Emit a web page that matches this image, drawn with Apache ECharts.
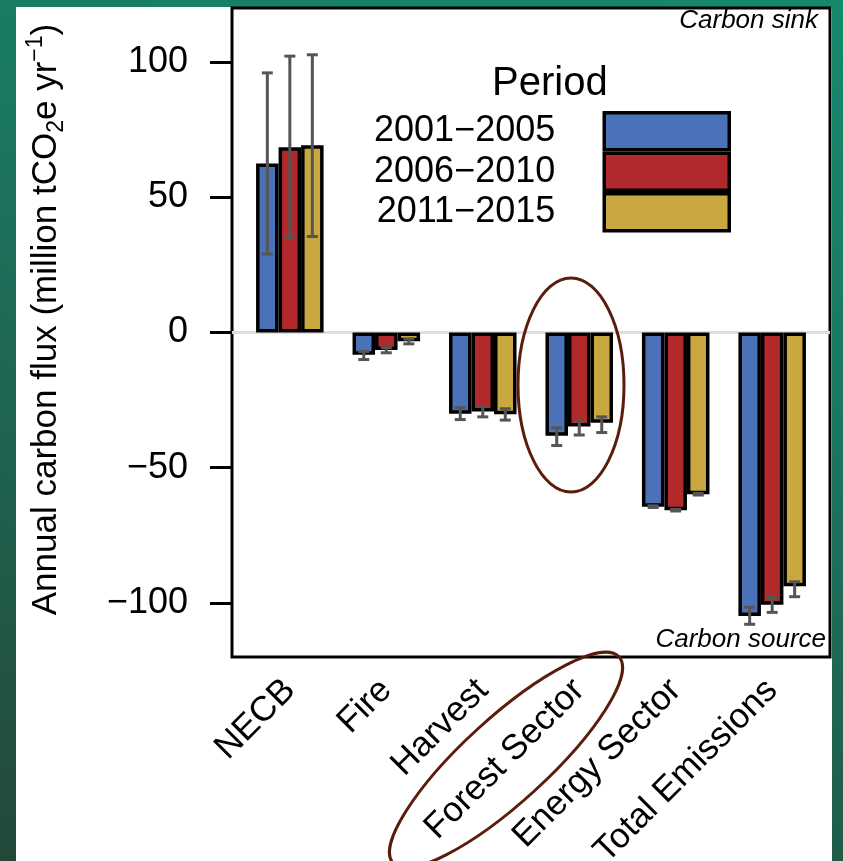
<!DOCTYPE html>
<html>
<head>
<meta charset="utf-8">
<script src="https://cdn.jsdelivr.net/npm/echarts@6/dist/echarts.min.js"></script>
<style>
html,body{margin:0;padding:0;}
body{width:843px;height:861px;overflow:hidden;position:relative;
 background:linear-gradient(200deg,#15896d 0%,#1b7762 35%,#1f6552 60%,#23483a 100%);}
#panel{position:absolute;left:16px;top:7px;width:816px;height:854px;background:#fff;}
#chart{position:absolute;left:0;top:0;width:843px;height:861px;}
</style>
</head>
<body>
<div id="panel"></div>
<div id="chart"></div>
<script>
const categories = ['NECB', 'Fire', 'Harvest', 'Forest Sector', 'Energy Sector', 'Total Emissions'];
const periods = ['2001\u22122005', '2006\u22122010', '2011\u22122015'];
const colors = ['#4B72B9', '#B2292B', '#C9A93F'];
const p1 = [62.5, -8.2, -30.0, -38.2, -64.4, -104.8];
const p2 = [68.5, -6.5, -29.2, -34.8, -65.7, -100.7];
const p3 = [69.2, -3.2, -30.2, -33.4, -59.8, -93.8];
const p1Low = [29.0, -10.0, -32.2, -41.8, -64.7, -107.9];
const p1High = [96.0, -7.0, -27.8, -35.2, -64.1, -101.6];
const p2Low = [34.9, -7.5, -31.2, -37.9, -66.0, -103.5];
const p2High = [102.2, -5.6, -27.4, -32.6, -65.4, -98.0];
const p3Low = [35.5, -4.2, -32.4, -37.0, -60.1, -97.7];
const p3High = [102.7, -2.4, -28.2, -31.2, -59.5, -92.2];
const yTicks = [-100, -50, 0, 50, 100];

const values = [p1, p2, p3];
const lows = [p1Low, p2Low, p3Low];
const highs = [p1High, p2High, p3High];
const FONT = "'Liberation Sans', Arial, Helvetica, sans-serif";

const chart = echarts.init(document.getElementById('chart'), null, {renderer: 'canvas'});

const series = [];
// zero reference line (drawn under bars)
series.push({
  type: 'line', xAxisIndex: 1, yAxisIndex: 1, z: 1, silent: true,
  symbol: 'none', data: [[0, 0], [1, 0]],
  lineStyle: {color: '#dedede', width: 3}
});
periods.forEach((p, k) => {
  series.push({
    name: p, type: 'bar', xAxisIndex: 0, yAxisIndex: 0, z: 2,
    data: values[k], barGap: '0%', barCategoryGap: '30%',
    itemStyle: {color: colors[k], borderColor: '#000', borderWidth: 3.5}
  });
});
periods.forEach((p, k) => {
  series.push({
    type: 'custom', xAxisIndex: 0, yAxisIndex: 0, z: 3, silent: true,
    data: categories.map((c, i) => [i, lows[k][i], highs[k][i]]),
    encode: {x: 0, y: [1, 2]},
    renderItem: function (params, api) {
      const ci = api.value(0);
      const x0 = api.coord([ci, 0])[0];
      const bandW = api.size([1, 0])[0];
      const barW = bandW * 0.7 / 3;
      const cx = x0 + (k - 1) * barW;
      const yl = api.coord([ci, api.value(1)])[1];
      const yh = api.coord([ci, api.value(2)])[1];
      const cap = 5.5;
      const st = {stroke: '#555555', lineWidth: 3};
      return {
        type: 'group',
        children: [
          {type: 'line', shape: {x1: cx, y1: yl, x2: cx, y2: yh}, style: st},
          {type: 'line', shape: {x1: cx - cap, y1: yl, x2: cx + cap, y2: yl}, style: st},
          {type: 'line', shape: {x1: cx - cap, y1: yh, x2: cx + cap, y2: yh}, style: st}
        ]
      };
    }
  });
});

const option = {
  animation: false,
  backgroundColor: 'transparent',
  textStyle: {fontFamily: FONT},
  title: [
    {text: 'Period', left: 492, top: 64, padding: 0,
     textStyle: {fontFamily: FONT, fontSize: 40, fontWeight: 'normal', color: '#000'}},
    {text: 'Carbon sink', right: 25, top: 8, padding: 0,
     textStyle: {fontFamily: FONT, fontSize: 26, fontStyle: 'italic', fontWeight: 'normal', color: '#000'}},
    {text: 'Carbon source', right: 17, top: 627, padding: 0,
     textStyle: {fontFamily: FONT, fontSize: 26, fontStyle: 'italic', fontWeight: 'normal', color: '#000'}}
  ],
  legend: {
    data: periods.map(p => ({name: p, icon: 'rect'})), orient: 'vertical', align: 'right',
    right: 112, top: 111, padding: 0, itemGap: 0,
    itemWidth: 125, itemHeight: 37, selectedMode: false,
    itemStyle: {borderColor: '#000', borderWidth: 3.5},
    textStyle: {fontFamily: FONT, fontSize: 36, color: '#000', padding: [0, 44, 0, 0]}
  },
  grid: [
    {left: 241.6, right: 22.6, top: 8, bottom: 204, containLabel: false, outerBoundsMode: 'none'},
    {left: 232, right: 13, top: 8, bottom: 204, containLabel: false, outerBoundsMode: 'none',
     show: true, borderColor: '#000', borderWidth: 3, backgroundColor: 'transparent'}
  ],
  xAxis: [
    {type: 'category', gridIndex: 0, data: categories,
     axisLine: {show: false}, axisTick: {show: false},
     axisLabel: {rotate: 45, fontSize: 35, color: '#000', fontFamily: FONT, margin: 28, interval: 0}},
    {type: 'value', gridIndex: 1, min: 0, max: 1, show: false}
  ],
  yAxis: [
    {type: 'value', gridIndex: 0, min: -120, max: 120, show: false},
    {type: 'value', gridIndex: 1, min: -120, max: 120,
     axisLine: {show: false},
     splitLine: {show: false},
     axisTick: {show: true, length: 22, lineStyle: {color: '#000', width: 3}, customValues: yTicks},
     axisLabel: {fontSize: 36, color: '#000', fontFamily: FONT, margin: 44, customValues: yTicks,
       formatter: v => String(v).replace('-', '\u2212')},
     name: '{t|Annual carbon flux (million tCO}{sub|2}{t|e yr}{sup|\u22121}{t|)}',
     nameLocation: 'middle', nameGap: 164,
     nameTextStyle: {
       fontFamily: FONT, fontSize: 35, color: '#000', padding: [0, 0, 0, 26],
       rich: {
         t: {fontFamily: FONT, fontSize: 35, color: '#000', lineHeight: 44, verticalAlign: 'middle'},
         sub: {fontFamily: FONT, fontSize: 23, color: '#000', lineHeight: 24, verticalAlign: 'bottom'},
         sup: {fontFamily: FONT, fontSize: 23, color: '#000', lineHeight: 24, verticalAlign: 'top'}
       }
     }}
  ],
  graphic: [
    {type: 'ellipse', shape: {cx: 571, cy: 385, rx: 53, ry: 107},
     style: {fill: 'none', stroke: '#5b1d0b', lineWidth: 3}, z: 10, silent: true},
    {type: 'ellipse', x: 506, y: 760, rotation: 0.74, shape: {cx: 0, cy: 0, rx: 153, ry: 42},
     style: {fill: 'none', stroke: '#5b1d0b', lineWidth: 3}, z: 10, silent: true}
  ],
  series: series
};
chart.setOption(option);
</script>
</body>
</html>
